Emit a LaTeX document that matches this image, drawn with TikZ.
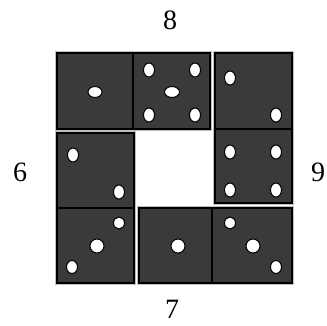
\documentclass[tikz,border=0pt]{standalone}
\usepackage{fontspec}
\setmainfont{Liberation Serif}
\definecolor{dieface}{RGB}{58,58,58}
\tikzset{
  piece/.style={fill=dieface, draw=black, line width=1.3pt},
  halo/.style={draw=black!25, line width=3.2pt},
  pip/.style={fill=white, draw=black, line width=1pt},
  sumlabel/.style={inner sep=0pt, font=\fontsize{28}{30}\selectfont}
}
\begin{document}
\begin{tikzpicture}[x=1pt, y=-1pt]
\useasboundingbox (0,0) rectangle (327,326);

\draw[halo] (57,53) rectangle (210,129);
\draw[halo] (215,53) rectangle (292,203);
\draw[halo] (139,208) rectangle (292,283);
\draw[halo] (57,133) rectangle (134,283);

\draw[piece] (57,53) rectangle (210,129);
\draw[black, line width=1.3pt] (133,53) -- (133,129);
\draw[pip] (95,92) ellipse (7pt and 5.5pt);
\draw[pip] (149,70) ellipse (5.5pt and 7pt);
\draw[pip] (195,70) ellipse (5.5pt and 7pt);
\draw[pip] (172,92) ellipse (7.5pt and 5.5pt);
\draw[pip] (149,115) ellipse (5.5pt and 7pt);
\draw[pip] (195,115) ellipse (5.5pt and 7pt);
%Top domino

\draw[piece] (215,53) rectangle (292,203);
\draw[black, line width=1.3pt] (215,129) -- (292,129);
\draw[pip] (230,78) ellipse (5.5pt and 7pt);
\draw[pip] (276,115) ellipse (5.5pt and 7pt);
\draw[pip] (230,152) ellipse (5.5pt and 7pt);
\draw[pip] (276,152) ellipse (5.5pt and 7pt);
\draw[pip] (230,190) ellipse (5.5pt and 7pt);
\draw[pip] (276,190) ellipse (5.5pt and 7pt);
%Right domino

\draw[piece] (139,208) rectangle (292,283);
\draw[black, line width=1.3pt] (212,208) -- (212,283);
\draw[pip] (178,246) ellipse (7pt and 7pt);
\draw[pip] (230,223) ellipse (5.5pt and 6pt);
\draw[pip] (253,246) ellipse (7pt and 7pt);
\draw[pip] (276,267) ellipse (5.5pt and 6.5pt);
%Bottom domino

\draw[piece] (57,133) rectangle (134,283);
\draw[black, line width=1.3pt] (57,208) -- (134,208);
\draw[pip] (73,155) ellipse (5.5pt and 7pt);
\draw[pip] (119,192) ellipse (5.5pt and 7pt);
\draw[pip] (119,223) ellipse (5.5pt and 6pt);
\draw[pip] (97,246) ellipse (7pt and 7pt);
\draw[pip] (72,267) ellipse (5.5pt and 6.5pt);
%Left domino

\node[sumlabel] (top) at (170,20) {8};
\node[sumlabel] (right) at (318,172) {9};
\node[sumlabel] (bottom) at (172,309) {7};
\node[sumlabel] (left) at (20,172) {6};
%Side sums
\end{tikzpicture}
\end{document}
